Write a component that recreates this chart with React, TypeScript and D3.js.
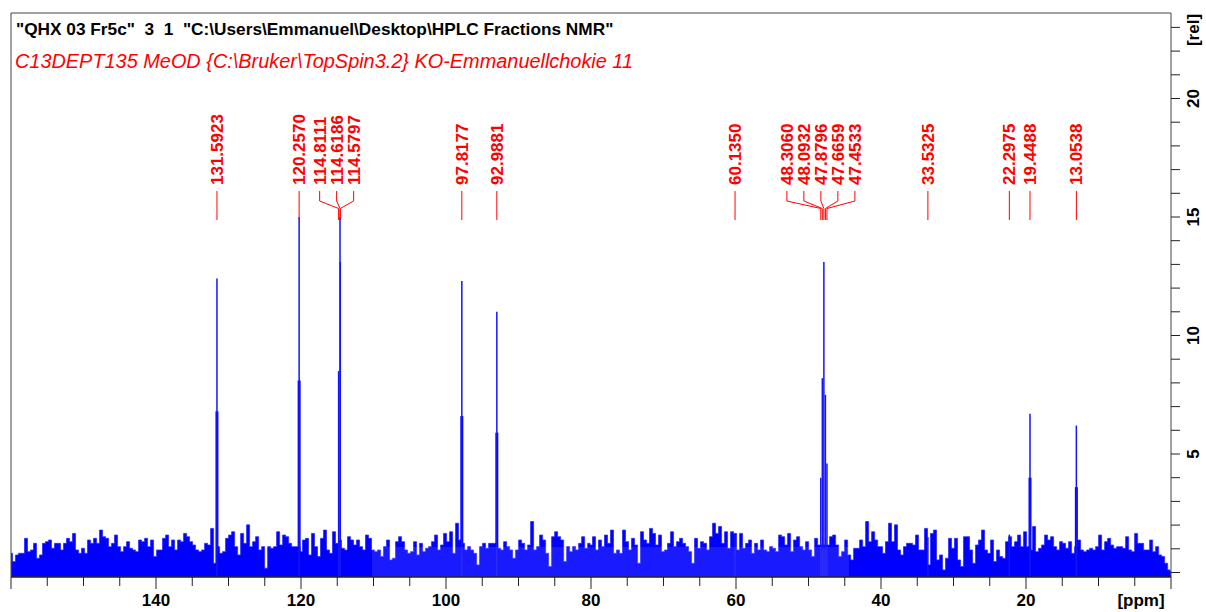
import React from 'react';
import * as d3 from 'd3';

// Header texts
const titleText = '"QHX 03 Fr5c"  3  1  "C:\\Users\\Emmanuel\\Desktop\\HPLC Fractions NMR"';
const subtitleText = 'C13DEPT135 MeOD {C:\\Bruker\\TopSpin3.2} KO-Emmanuellchokie 11';

// Axis labels
const xTickLabels = [140, 120, 100, 80, 60, 40, 20];
const yTickLabels = [5, 10, 15, 20];

// Baseline noise in four stretches (intensity in rel units)
const noiseStep = 0.414; // ppm between samples
const noiseA_start = 160;
const noiseA = [0.81, 0.46, 0.74, 0.81, 0.81, 1.44, 0.88, 0.95, 1.23, 0.60, 0.74, 1.23, 1.30, 1.37, 1.02, 1.23, 1.23, 0.95, 1.23, 1.44, 1.30, 1.65, 0.95, 0.81, 1.02, 0.81, 1.37, 1.23, 1.44, 1.23, 1.79, 1.51, 1.44, 1.09, 1.23, 1.58, 1.09, 0.88, 1.09, 1.30, 1.02, 0.95, 0.88, 1.37, 1.30, 1.44, 1.09, 1.37, 0.67, 0.95, 0.95, 1.44, 1.58, 1.09, 1.37, 0.95, 1.37, 1.30, 1.65, 1.51, 1.30, 1.16, 0.95, 0.88, 0.95, 1.23, 1.16, 1.86, 0.39, 1.09, 0.81, 0.88, 1.44, 1.58, 1.72, 1.09, 0.74, 1.65, 1.23, 2.01, 1.09, 1.30, 1.51, 0.95, 1.09, 0.18, 1.09, 1.02, 1.09, 1.72, 1.16, 1.58, 1.51, 1.23, 1.09, 1.09, 1.09];
const noiseB_start = 120;
const noiseB = [0.88, 1.37, 1.44, 0.74, 1.65, 1.09, 0.67, 1.44, 1.79, 0.95, 0.81, 1.72, 1.23, 1.37, 1.02, 0.95, 1.51, 1.37, 1.16, 1.37, 1.09, 0.95, 1.58, 1.44, 0.95, 0.88, 0.95, 0.67, 1.09, 1.37, 0.53, 0.60, 1.30, 1.51, 1.30, 0.95, 0.81, 0.88, 1.30, 0.74, 1.23, 0.88, 1.02, 1.09, 1.30, 1.58, 0.95, 1.16, 1.65, 1.30, 1.72, 0.81, 2.08, 1.37, 1.23, 0.95, 1.09, 0.95, 0.81, 0.32, 1.09, 1.23, 1.02, 1.23, 1.23, 1.23, 1.02, 0.95, 1.30, 1.09, 0.95, 0.60, 0.95, 1.37, 1.23, 0.95, 1.16, 2.15, 0.95, 1.09, 1.58, 1.37, 0.81, 0.25, 1.51, 1.72, 1.51, 1.37, 0.46, 1.09, 0.88, 1.09, 0.95, 1.23, 1.51, 1.02, 1.23];
const noiseC_start = 80;
const noiseC = [1.16, 1.51, 0.95, 1.37, 1.09, 1.58, 1.23, 1.79, 0.81, 0.95, 0.81, 1.79, 1.30, 0.95, 1.44, 1.16, 0.39, 1.72, 1.37, 1.23, 1.86, 1.65, 1.16, 1.58, 0.88, 0.95, 1.23, 1.72, 1.09, 1.30, 1.44, 1.23, 1.09, 0.88, 0.39, 1.44, 1.02, 1.30, 1.23, 0.95, 1.51, 2.08, 1.65, 1.94, 1.23, 1.72, 1.02, 1.72, 1.65, 0.95, 1.65, 1.02, 1.23, 1.37, 0.81, 1.23, 0.95, 1.37, 0.95, 0.88, 1.09, 1.02, 0.88, 1.58, 1.51, 1.16, 1.65, 0.88, 1.37, 1.51, 1.09, 0.95, 1.30, 0.95, 0.67, 1.44, 1.16, 1.16, 1.16, 1.16, 1.51, 1.58, 1.16, 0.67, 0.88, 1.37, 0.74, 0.53, 1.02, 1.02, 1.37, 1.09, 2.15, 1.30, 1.72, 1.37, 1.09];
const noiseD_start = 40;
const noiseD = [1.09, 0.81, 1.30, 2.08, 1.30, 2.01, 0.95, 0.74, 1.09, 1.23, 1.23, 1.16, 1.58, 0.95, 0.95, 1.86, 0.32, 1.65, 1.79, 0.53, 0.74, 0.11, 0.60, 1.44, 1.02, 1.44, 0.53, 0.25, 1.51, 1.51, 0.95, 0.39, 1.16, 1.37, 1.79, 0.95, 0.81, 1.37, 0.46, 0.95, 0.67, 0.60, 1.30, 1.51, 1.09, 1.30, 1.58, 1.09, 1.72, 1.09, 0.95, 1.94, 0.88, 1.02, 1.16, 1.58, 1.37, 1.51, 1.09, 0.95, 1.30, 1.23, 1.02, 1.30, 0.81, 1.09, 1.37, 0.95, 0.88, 0.95, 1.02, 0.95, 1.09, 1.58, 0.95, 1.30, 1.44, 1.16, 1.02, 1.09, 1.09, 1.02, 1.51, 0.95, 0.88, 1.65, 1.23, 1.23, 0.95, 0.95, 1.37, 0.88, 1.09, 0.74, 0.67, 0.39, 0.11, 0.04];

// Picked peaks: position (ppm), top height and the wider lower part (rel)
const peakPpm = [131.5923, 120.2570, 114.8111, 114.6186, 114.5797, 97.8177, 92.9881, 60.1350, 48.3060, 48.0932, 47.8796, 47.6659, 47.4533, 33.5325, 22.2975, 19.4488, 13.0538];
const peakHeight = [12.4, 15.0, 8.5, 15.0, 13.1, 12.3, 11.0, 1.6, 4.0, 8.2, 13.1, 7.5, 4.6, 1.5, 1.6, 6.7, 6.2];
const peakShoulder = [6.8, 8.1, 0, 0, 0, 6.6, 5.9, 0, 0, 0, 0, 0, 0, 0, 0, 4.0, 3.6];

const W = 1206;
const H = 612;
const left = 11;
const right = 1171;
const top = 13;
const bottom = 577;
const blue = '#0000ff';
const red = '#ff0000';
const font = '"Liberation Sans", Arial, sans-serif';

export default function App() {
  const x = d3.scaleLinear().domain([160, 0]).range([left, right]);
  const y = d3.scaleLinear().domain([0, 20]).range([572.5, 98.5]);

  const noise: { ppm: number; v: number }[] = [];
  [[noiseA_start, noiseA], [noiseB_start, noiseB], [noiseC_start, noiseC], [noiseD_start, noiseD]].forEach(([start, vals]) => {
    (vals as number[]).forEach((v, i) => noise.push({ ppm: Math.max(0, (start as number) - i * noiseStep), v }));
  });

  const area = d3.area<{ ppm: number; v: number }>()
    .x(d => x(d.ppm))
    .y0(bottom)
    .y1(d => y(d.v))
    .curve(d3.curveStep);

  // group labels whose peaks sit too close together
  const items = peakPpm.map((p, i) => ({ p, i, px: x(p), lx: x(p) }));
  const groups: typeof items[] = [];
  items.forEach(it => {
    const g = groups[groups.length - 1];
    if (g && it.px - g[g.length - 1].px < 17) g.push(it);
    else groups.push([it]);
  });
  groups.forEach(g => {
    const c = g.length > 1 ? (d3.mean(g, d => d.px) as number) - 3 : g[0].px;
    g.forEach((it, k) => { it.lx = c + (k - (g.length - 1) / 2) * 17; });
  });

  const xTicks = d3.range(0, 161, 5);
  const yTicks = d3.range(0, 24, 1);

  return (
    <svg width={W} height={H} style={{ position: 'absolute', left: 0, top: 0, background: '#fff' }} fontFamily={font}>
      <defs>
        <clipPath id="plot">
          <rect x={left} y={top} width={right - left} height={bottom - top} />
        </clipPath>
      </defs>

      <text x={16} y={35} fontSize={17.25} fontWeight="bold" fill="#000" style={{ whiteSpace: 'pre' }}>{titleText}</text>
      <text x={15} y={68} fontSize={19.9} fontStyle="italic" fill={red} style={{ whiteSpace: 'pre' }}>{subtitleText}</text>

      <g clipPath="url(#plot)">
        <path d={area(noise) || ''} fill={blue} stroke="#2b2bff" strokeWidth={0.8} />
        {peakPpm.map((p, i) => peakShoulder[i] > 0 && (
          <rect key={'s' + i} x={x(p) - 1.5} width={3} y={y(peakShoulder[i])} height={bottom - y(peakShoulder[i])} fill={blue} />
        ))}
        {peakPpm.map((p, i) => (
          <line key={'p' + i} x1={x(p)} x2={x(p)} y1={bottom} y2={y(peakHeight[i])} stroke="#1414ff" strokeWidth={1.5} />
        ))}
        <rect x={372} y={547} width={477} height={bottom - 547} fill="#fff" opacity={0.1} />
      </g>

      {/* peak labels */}
      {items.map(it => (
        <g key={'l' + it.i}>
          <path
            d={Math.abs(it.lx - it.px) < 0.5
              ? `M${it.px},191V220`
              : `M${it.lx},191V201L${it.px},208.5V220`}
            fill="none" stroke={red} strokeWidth={1} />
          <text transform={`translate(${it.lx},185) rotate(-90)`} dy="0.36em" fontSize={17} fontWeight="bold" fill={red}>
            {peakPpm[it.i].toFixed(4)}
          </text>
        </g>
      ))}

      {/* frame */}
      <path d={`M${left},${bottom}V${top}H${right}V${bottom}`} fill="none" stroke="#444" strokeWidth={1} />
      <line x1={left} x2={right} y1={bottom} y2={bottom} stroke="#222" strokeWidth={1.5} />

      {/* x axis */}
      {xTicks.map(t => (
        <line key={'xt' + t} x1={x(t)} x2={x(t)} y1={bottom} y2={bottom + (t % 20 === 0 ? 12 : 9)} stroke="#222" strokeWidth={1} />
      ))}
      {xTickLabels.map(t => (
        <text key={'xl' + t} x={x(t)} y={606} textAnchor="middle" fontSize={17} fontWeight="bold" fill="#000">{t}</text>
      ))}
      <text x={1141} y={606} textAnchor="middle" fontSize={17} fontWeight="bold" fill="#000">[ppm]</text>

      {/* y axis on the right */}
      {yTicks.map(t => (
        <line key={'yt' + t} x1={right} x2={right + 9} y1={y(t)} y2={y(t)} stroke="#222" strokeWidth={1} />
      ))}
      {yTickLabels.map(t => (
        <text key={'yl' + t} transform={`translate(1193,${y(t)}) rotate(-90)`} dy="0.36em" textAnchor="middle" fontSize={17} fontWeight="bold" fill="#000">{t}</text>
      ))}
      <text transform="translate(1193,30) rotate(-90)" dy="0.36em" textAnchor="middle" fontSize={17} fontWeight="bold" fill="#000">[rel]</text>
    </svg>
  );
}
